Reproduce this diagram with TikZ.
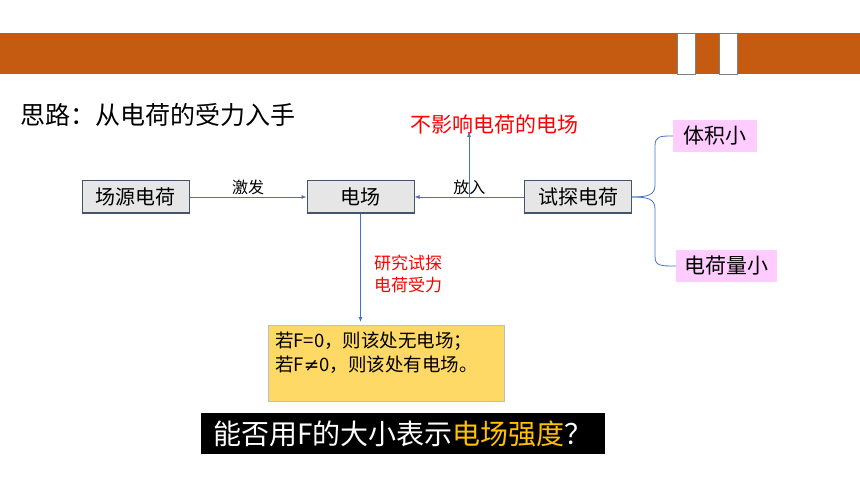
\documentclass[tikz,border=0pt]{standalone}
\usepackage{fontspec}
\setmainfont{Noto Sans CJK SC}
\newfontfamily\symfont{DejaVu Sans}
\usetikzlibrary{arrows.meta}
\definecolor{bandorange}{HTML}{C55A11}
\definecolor{boxgray}{HTML}{E7E6E6}
\definecolor{boxline}{HTML}{44546A}
\definecolor{linkblue}{HTML}{4472C4}
\definecolor{pinkfill}{HTML}{FFCCFF}
\definecolor{condyellow}{HTML}{FFD966}
\definecolor{askgold}{HTML}{FFC000}
\begin{document}
\begin{tikzpicture}
	[x=1pt, y=-1pt,
	box/.style = {draw=boxline, fill=boxgray, line width=1pt,
	minimum width=107pt, minimum height=32pt, inner sep=0pt,
	font=\fontsize{20}{20}\selectfont},
	tag/.style = {fill=pinkfill, minimum height=32pt, inner sep=0pt,
	anchor=west, font=\fontsize{21}{21}\selectfont},
	lbl/.style = {font=\fontsize{16}{16}\selectfont, inner sep=2pt},
	link/.style = {draw=linkblue, line width=0.8pt,
	-{Latex[length=5pt,width=4pt]}}]
	\useasboundingbox (0,0) rectangle (860,484);
	% top band
	\fill[bandorange] (0,33) rectangle (860,74);
	\foreach \x in {677, 719} {
		\filldraw[fill=white, draw=gray, line width=0.8pt] (\x,33) rectangle (\x+18,74);
	}
	\node[anchor=west, inner sep=0pt, font=\fontsize{25}{25}\selectfont] (title) at (20,115) {思路：从电荷的受力入手};
	% main row
	\node[box] (src) at (135.5,197) {场源电荷};
	\node[box] (field) at (360.5,197) {电场};
	\node[box] (probe) at (578,197) {试探电荷};
	\node[tag, minimum width=84pt] (vol) at (673,136) {体积小};
	\node[tag, minimum width=101pt] (qty) at (676,266) {电荷量小};
	\node[text=red, inner sep=0pt, font=\fontsize{21}{21}\selectfont] (effect) at (494,124) {不影响电荷的电场};
	\node[text=red, anchor=west, align=left, inner sep=0pt, font=\fontsize{17}{22}\selectfont] (study) at (374,274) {研究试探\\电荷受力};
	\node[fill=condyellow, draw=gray!50, anchor=north west, inner xsep=7pt, inner ysep=7pt,
	font=\fontsize{18.5}{24}\selectfont] (cond) at (268,325)
	{\begin{minipage}[t][62pt][t]{222pt}若F=0，则该处无电场；\\若F{\symfont ≠}0，则该处有电场。\end{minipage}};
	\node[fill=black, text=white, minimum width=404pt, minimum height=41pt, inner sep=0pt,
	font=\fontsize{28}{28}\selectfont] (ask) at (403,433.5)
	{能否用F的大小表示\textcolor{askgold}{电场强度}？};
	% connectors
	\draw[link] (src) -- node[above, lbl] {激发} (field);
	\draw[link] (probe) -- node[above, lbl] {放入} (field);
	\coordinate (put) at (469,197);
	\draw[link] (put) -- ([yshift=2pt]put |- effect.south);
	\draw[link, shorten >=3pt] (field.south) -- (field.south |- cond.north);
	% brace
	\draw[linkblue, line width=0.8pt] (probe.east) .. controls (648,197) and (655,195) .. (655,185)
		-- (655,146) .. controls (655,136) and (660,136) .. (vol.west);
	\draw[linkblue, line width=0.8pt] (probe.east) .. controls (648,197) and (655,199) .. (655,209)
		-- (655,256) .. controls (655,266) and (660,266) .. (qty.west);
\end{tikzpicture}
\end{document}
